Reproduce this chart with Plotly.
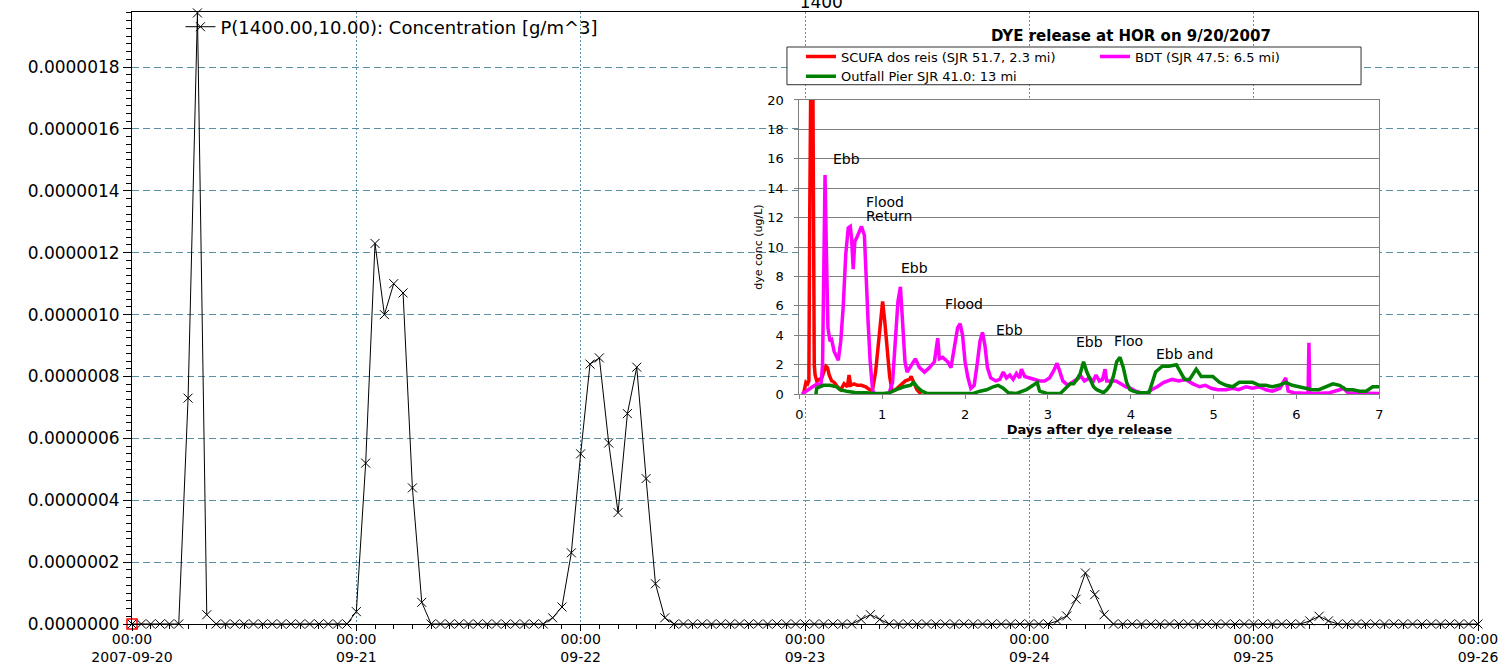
import pandas as pd
import plotly.graph_objects as go

# ---------------- main chart data: hourly concentration at P(1400,10) ----------------
TIME_START = "2007-09-20 00:00"
conc = [
    # 09-20
    0, 0, 0, 0, 0, 0, 0.73e-6, 1.975e-6, 0.03e-6, 0, 0, 0,
    0, 0, 0, 0, 0, 0, 0, 0, 0, 0, 0, 0,
    # 09-21
    0.04e-6, 0.52e-6, 1.23e-6, 1.00e-6, 1.10e-6, 1.07e-6, 0.44e-6, 0.07e-6, 0, 0, 0, 0,
    0, 0, 0, 0, 0, 0, 0, 0, 0, 0.02e-6, 0.055e-6, 0.23e-6,
    # 09-22
    0.55e-6, 0.84e-6, 0.86e-6, 0.585e-6, 0.36e-6, 0.68e-6, 0.83e-6, 0.47e-6, 0.13e-6, 0.02e-6, 0, 0,
    0, 0, 0, 0, 0, 0, 0, 0, 0, 0, 0, 0,
    # 09-23
    0, 0, 0, 0, 0, 0, 0.015e-6, 0.03e-6, 0.015e-6, 0, 0, 0,
    0, 0, 0, 0, 0, 0, 0, 0, 0, 0, 0, 0,
    # 09-24
    0, 0, 0, 0.01e-6, 0.026e-6, 0.08e-6, 0.165e-6, 0.095e-6, 0.03e-6, 0, 0, 0,
    0, 0, 0, 0, 0, 0, 0, 0, 0, 0, 0, 0,
    # 09-25
    0, 0, 0, 0, 0, 0, 0.01e-6, 0.025e-6, 0.01e-6, 0, 0, 0,
    0, 0, 0, 0, 0, 0, 0, 0, 0, 0, 0, 0,
    # 09-26 00:00
    0,
]
times = pd.date_range(TIME_START, periods=len(conc), freq="h")

day_ticks = ["2007-09-20", "2007-09-21", "2007-09-22", "2007-09-23",
             "2007-09-24", "2007-09-25", "2007-09-26"]
day_tick_text = ["00:00<br>2007-09-20", "00:00<br>09-21", "00:00<br>09-22", "00:00<br>09-23",
                 "00:00<br>09-24", "00:00<br>09-25", "00:00<br>09-26"]

# ---------------- inset data: dye release at HOR ----------------
scufa_days = [0.05, 0.065, 0.08, 0.10, 0.115, 0.125, 0.135, 0.15, 0.16, 0.17,
              0.18, 0.19, 0.21, 0.24, 0.27, 0.30, 0.32, 0.34, 0.36, 0.39,
              0.42, 0.46, 0.50, 0.54, 0.58, 0.60, 0.62, 0.66, 0.70, 0.75,
              0.80, 0.85, 0.88, 0.92, 0.96, 0.99, 1.005, 1.03, 1.06, 1.09,
              1.12, 1.16, 1.22, 1.28, 1.33, 1.35, 1.38, 1.42, 1.47]
scufa_conc = [0.0, 0.5, 0.8, 0.7, 0.9, 12.0, 30.0, 30.0, 25.0, 8.0,
              2.0, 1.3, 0.9, 1.0, 1.1, 1.6, 1.9, 1.8, 1.3, 0.9,
              0.8, 0.5, 0.3, 0.7, 0.5, 1.3, 0.6, 0.7, 0.6, 0.6,
              0.5, 0.3, 0.2, 1.5, 4.0, 5.8, 6.3, 5.0, 3.0, 1.2,
              0.2, 0.3, 0.6, 0.9, 1.0, 1.2, 0.8, 0.3, 0.0]

bdt_days = [0.03, 0.10, 0.16, 0.22, 0.26, 0.28, 0.295, 0.31, 0.325, 0.345,
            0.37, 0.39, 0.42, 0.45, 0.47, 0.50, 0.53, 0.56, 0.59, 0.615,
            0.63, 0.65, 0.67, 0.69, 0.72, 0.75, 0.785, 0.80, 0.83, 0.855,
            0.885, 0.92, 1.08, 1.125, 1.165, 1.19, 1.22, 1.245, 1.275, 1.30,
            1.35, 1.40, 1.45, 1.51, 1.57, 1.63, 1.67, 1.69, 1.73, 1.79,
            1.83, 1.87, 1.91, 1.94, 1.97, 2.00, 2.035, 2.07, 2.11, 2.15,
            2.18, 2.21, 2.24, 2.27, 2.31, 2.37, 2.42, 2.46, 2.50, 2.54,
            2.58, 2.62, 2.66, 2.68, 2.72, 2.78, 2.84, 2.90, 2.96, 3.02,
            3.07, 3.11, 3.14, 3.18, 3.24, 3.30, 3.36, 3.40, 3.44, 3.50,
            3.55, 3.58, 3.62, 3.66, 3.69, 3.71, 3.76, 3.82, 3.88, 3.94,
            4.00, 4.06, 4.12, 4.20, 4.25, 4.32, 4.40, 4.50, 4.58, 4.66,
            4.75, 4.83, 4.90, 4.97, 5.05, 5.15, 5.23, 5.30, 5.39, 5.47,
            5.55, 5.63, 5.71, 5.80, 5.87, 5.90, 5.97, 6.05, 6.14, 6.15,
            6.16, 6.24, 6.40, 6.52, 6.57, 6.62, 6.80, 6.95, 7.00]
bdt_conc = [0.0, 0.3, 0.5, 0.7, 0.6, 2.0, 10.0, 14.9, 10.1, 4.5,
            3.6, 3.7, 2.9, 2.6, 2.3, 3.6, 6.0, 9.5, 11.3, 11.4,
            10.6, 8.5, 10.4, 10.6, 11.0, 11.4, 10.8, 8.5, 4.9, 2.2,
            0.2, 0.0, 0.0, 0.8, 4.5, 6.3, 7.3, 4.9, 2.2, 1.5,
            1.9, 2.4, 1.8, 1.5, 1.8, 2.2, 3.8, 2.4, 2.5, 2.2,
            1.8, 3.1, 4.5, 4.8, 4.0, 2.2, 1.1, 0.4, 0.6, 2.2,
            3.6, 4.2, 3.3, 1.8, 1.1, 0.9, 1.0, 1.5, 1.1, 1.3,
            1.0, 1.4, 1.1, 1.7, 1.2, 1.1, 1.0, 0.9, 0.9, 1.1,
            1.6, 2.1, 1.6, 0.9, 0.6, 0.8, 1.0, 1.2, 0.9, 1.1,
            0.9, 1.3, 0.9, 1.0, 1.7, 0.9, 0.9, 0.9, 0.7, 0.5,
            0.4, 0.2, 0.1, 0.1, 0.3, 0.5, 0.8, 1.0, 0.9, 1.0,
            0.7, 0.5, 0.6, 0.4, 0.3, 0.3, 0.4, 0.3, 0.5, 0.4,
            0.5, 0.3, 0.2, 0.4, 1.1, 0.2, 0.1, 0.05, 0.05, 3.5,
            0.05, 0.05, 0.1, 0.3, 0.4, 0.1, 0.05, 0.05, 0.05]

outfall_days = [0.20, 0.21, 0.29, 0.37, 0.45, 0.49, 0.57, 0.69, 0.81, 0.89,
                1.01, 1.09, 1.17, 1.26, 1.34, 1.38, 1.42, 1.48, 1.54, 1.70,
                1.90, 2.10, 2.18, 2.26, 2.34, 2.40, 2.46, 2.52, 2.62, 2.74,
                2.82, 2.87, 2.90, 2.99, 3.15, 3.23, 3.27, 3.31, 3.35, 3.39,
                3.43, 3.47, 3.51, 3.55, 3.59, 3.63, 3.67, 3.71, 3.75, 3.79,
                3.83, 3.87, 3.91, 3.95, 3.99, 4.03, 4.10, 4.22, 4.26, 4.30,
                4.38, 4.46, 4.55, 4.59, 4.65, 4.71, 4.79, 4.85, 4.91, 4.99,
                5.07, 5.15, 5.23, 5.31, 5.39, 5.47, 5.55, 5.63, 5.71, 5.79,
                5.87, 5.95, 6.03, 6.11, 6.19, 6.27, 6.36, 6.44, 6.52, 6.60,
                6.68, 6.76, 6.84, 6.92, 7.00]
outfall_conc = [0.0, 0.4, 0.6, 0.6, 0.5, 0.3, 0.2, 0.1, 0.1, 0.05,
                0.05, 0.1, 0.3, 0.5, 0.6, 0.8, 0.5, 0.2, 0.05, 0.05,
                0.05, 0.05, 0.2, 0.3, 0.5, 0.6, 0.4, 0.1, 0.05, 0.3,
                0.6, 0.8, 0.2, 0.05, 0.05, 0.5, 0.7, 0.7, 1.0, 1.4,
                2.2, 1.5, 1.0, 0.5, 0.3, 0.2, 0.1, 0.3, 0.6, 1.2,
                2.2, 2.5, 1.8, 0.8, 0.3, 0.2, 0.1, 0.1, 0.8, 1.5,
                1.9, 1.9, 2.0, 1.6, 1.0, 1.0, 1.7, 1.2, 1.2, 1.2,
                0.8, 0.6, 0.5, 0.8, 0.8, 0.8, 0.6, 0.6, 0.5, 0.6,
                0.8, 0.6, 0.5, 0.4, 0.3, 0.3, 0.5, 0.7, 0.6, 0.3,
                0.3, 0.2, 0.2, 0.5, 0.5]

tide_labels = ["Ebb", "Flood", "Return", "Ebb", "Flood", "Ebb", "Ebb", "Floo", "Ebb and"]
tide_label_days = [0.386, 0.785, 0.785, 1.207, 1.738, 2.353, 3.319, 3.777, 4.284]
tide_label_conc = [16.0, 13.06, 12.1, 8.57, 6.12, 4.35, 3.54, 3.6, 2.72]

# ---------------- styling ----------------
FONT = "DejaVu Sans"
GRID = "#5b8fa6"
INSET_GRAY = "#808080"

fig = go.Figure()

fig.add_trace(go.Scatter(
    x=times, y=conc, mode="lines+markers",
    name="P(1400.00,10.00): Concentration [g/m^3]",
    line=dict(color="black", width=1),
    marker=dict(symbol="x-thin", size=9, color="black", line=dict(width=1, color="black")),
    cliponaxis=False, legend="legend",
))
fig.add_trace(go.Scatter(
    x=times[:1], y=conc[:1], mode="markers", showlegend=False,
    marker=dict(symbol="square-open", size=10, color="red", line=dict(width=1.5, color="red")),
    cliponaxis=False,
))

fig.add_trace(go.Scatter(
    x=scufa_days, y=scufa_conc, mode="lines", name="SCUFA dos reis (SJR 51.7, 2.3 mi)",
    line=dict(color="#ff0000", width=3.5), xaxis="x2", yaxis="y2",
    legend="legend2", legendgroup="col1",
))
fig.add_trace(go.Scatter(
    x=bdt_days, y=bdt_conc, mode="lines", name="BDT (SJR 47.5: 6.5 mi)",
    line=dict(color="#ff00ff", width=3.5), xaxis="x2", yaxis="y2",
    legend="legend2", legendgroup="col2",
))
fig.add_trace(go.Scatter(
    x=outfall_days, y=outfall_conc, mode="lines", name="Outfall Pier SJR 41.0: 13 mi",
    line=dict(color="#008000", width=3.5), xaxis="x2", yaxis="y2",
    legend="legend2", legendgroup="col1",
))

annotations = []
for txt, dx, dy in zip(tide_labels, tide_label_days, tide_label_conc):
    annotations.append(dict(
        text=txt, x=dx, y=dy, xref="x2", yref="y2", showarrow=False,
        xanchor="left", yanchor="middle", font=dict(family=FONT, size=14, color="black"),
    ))
annotations.append(dict(
    text="<b>DYE release at HOR on 9/20/2007</b>", x=0.7422, y=0.9601,
    xref="paper", yref="paper", showarrow=False, xanchor="center", yanchor="middle",
    font=dict(family=FONT, size=15, color="black"),
))

# frame of the inset legend
shapes = [dict(
    type="rect", xref="paper", yref="paper",
    x0=0.4866, x1=0.9131, y0=0.8812, y1=0.9428,
    fillcolor="white", line=dict(color="#303030", width=1), layer="above",
)]

fig.update_layout(
    width=1507, height=669,
    margin=dict(l=132, r=29, t=12, b=45, pad=0, autoexpand=False),
    paper_bgcolor="white", plot_bgcolor="white",
    font=dict(family=FONT, size=17, color="black"),
    title=dict(text="1400", x=0.545, xanchor="center", y=0.997, yanchor="middle",
               xref="container", yref="container", font=dict(family=FONT, size=17, color="black")),
    xaxis=dict(
        type="date", range=[day_ticks[0], day_ticks[-1]], automargin=False,
        tickmode="array", tickvals=day_ticks, ticktext=day_tick_text,
        tickfont=dict(family=FONT, size=14), ticklabelstandoff=-4,
        ticks="outside", ticklen=6, tickcolor="black",
        showline=True, linecolor="black", linewidth=1, mirror=True,
        showgrid=True, gridcolor=GRID, griddash="2px,2px", gridwidth=1, zeroline=False,
        minor=dict(ticks="outside", ticklen=4, tickcolor="black", dtick=2 * 3600 * 1000,
                   tick0=day_ticks[0], showgrid=False),
    ),
    yaxis=dict(
        range=[0, 1.978e-6], tickmode="linear", tick0=0, dtick=0.2e-6, tickformat=".7f",
        automargin=False,
        tickfont=dict(family=FONT, size=17),
        ticks="outside", ticklen=8, tickcolor="black",
        showline=True, linecolor="black", linewidth=1, mirror=True,
        showgrid=True, gridcolor=GRID, griddash="7px,4px", gridwidth=1, zeroline=False,
        minor=dict(ticks="outside", ticklen=5, tickcolor="black", dtick=0.025e-6, tick0=0, showgrid=False),
    ),
    xaxis2=dict(
        domain=[0.4958, 0.9267], anchor="y2", range=[0, 7], automargin=False,
        tickmode="linear", tick0=0, dtick=1,
        tickfont=dict(family=FONT, size=13, color="black"),
        ticks="outside", ticklen=4, tickcolor=INSET_GRAY, ticklabelstandoff=4,
        showline=True, linecolor=INSET_GRAY, linewidth=1, mirror=True,
        showgrid=False, zeroline=False,
        title=dict(text="<b>Days after dye release</b>", standoff=0,
                   font=dict(family=FONT, size=13, color="black")),
    ),
    yaxis2=dict(
        domain=[0.3756, 0.8563], anchor="x2", range=[0, 20], automargin=False,
        tickmode="linear", tick0=0, dtick=2,
        tickfont=dict(family=FONT, size=13, color="black"),
        ticks="outside", ticklen=4, tickcolor=INSET_GRAY, ticklabelstandoff=8,
        showline=True, linecolor=INSET_GRAY, linewidth=1, mirror=True,
        showgrid=True, gridcolor=INSET_GRAY, gridwidth=1, zeroline=False,
        title=dict(text="dye conc (ug/L)", standoff=2,
                   font=dict(family=FONT, size=11, color="black")),
    ),
    legend=dict(
        x=0.036, y=1.0057, xanchor="left", yanchor="top",
        bgcolor="rgba(0,0,0,0)", borderwidth=0,
        font=dict(family=FONT, size=18, color="black"),
    ),
    legend2=dict(
        x=0.497, y=0.9518, xanchor="left", yanchor="top",
        orientation="h", traceorder="grouped", tracegroupgap=0,
        entrywidth=249, entrywidthmode="pixels",
        bgcolor="rgba(0,0,0,0)", borderwidth=0,
        font=dict(family=FONT, size=13, color="black"),
    ),
    annotations=annotations,
    shapes=shapes,
    showlegend=True,
)

fig.write_html("out.html")
